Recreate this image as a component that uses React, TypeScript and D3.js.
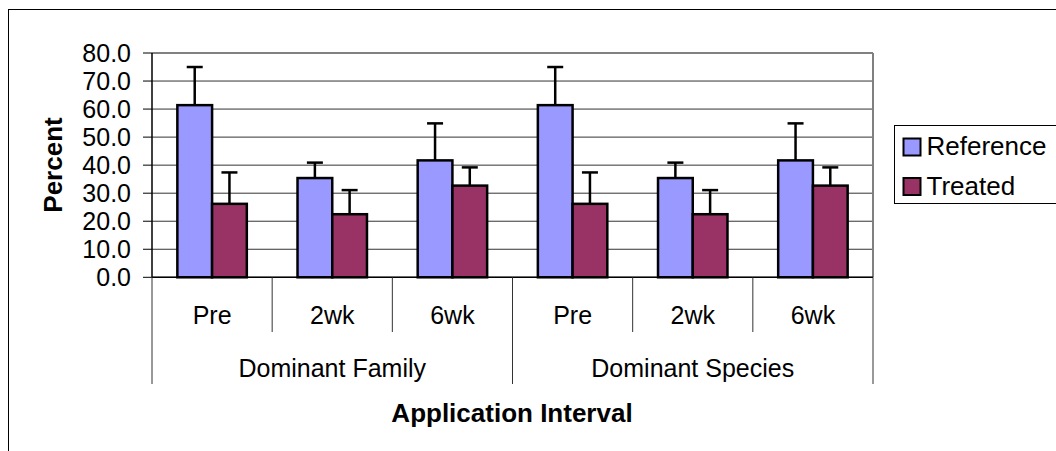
import React from "react";
import * as d3 from "d3";

const groups = ["Dominant Family", "Dominant Species"];
const intervals = ["Pre", "2wk", "6wk"];
const seriesNames = ["Reference", "Treated"];
const seriesColors = ["#9999FF", "#993366"];
const referenceValues = [61.4, 35.4, 41.7, 61.4, 35.4, 41.7];
const treatedValues = [26.2, 22.5, 32.7, 26.2, 22.5, 32.7];
const referenceErrors = [13.6, 5.5, 13.2, 13.6, 5.5, 13.2];
const treatedErrors = [11.2, 8.6, 6.5, 11.2, 8.6, 6.5];
const yTicks = [0, 10, 20, 30, 40, 50, 60, 70, 80];

const FONT = "'Liberation Sans', Arial, Helvetica, sans-serif";

export default function App() {
  const W = 1056, H = 451;
  const left = 152, right = 873, top = 53, bottom = 277.3;
  const categories = groups.flatMap((g) => intervals.map((iv) => `${g}|${iv}`));
  const x = d3.scaleBand<string>().domain(categories).range([left, right]).padding(0);
  const inner = d3
    .scaleBand<string>()
    .domain(seriesNames)
    .range([0, x.bandwidth()])
    .paddingInner(0)
    .paddingOuter(0.73);
  const y = d3.scaleLinear().domain([0, 80]).range([bottom, top]);
  const values = [referenceValues, treatedValues];
  const errors = [referenceErrors, treatedErrors];
  const groupX = d3.scaleBand<string>().domain(groups).range([left, right]).padding(0);

  const boundaries = categories.map((c) => x(c)!).concat([right]);
  const groupBoundaries = groups.map((g) => groupX(g)!).concat([right]);

  return (
    <svg
      width={W}
      height={H}
      style={{ position: "absolute", left: 0, top: 0, background: "#fff" }}
      fontFamily={FONT}
    >
      <rect x={0} y={0} width={W} height={H} fill="#fff" />
      <rect x={8.5} y={9.5} width={W + 20} height={H + 20} fill="none" stroke="#000" strokeWidth={1} />

      {/* gridlines */}
      {yTicks.map((t) => (
        <line key={"g" + t} x1={left} x2={right} y1={y(t)} y2={y(t)} stroke="#333" strokeWidth={1} />
      ))}
      {/* plot border top/right */}
      <line x1={left} x2={right} y1={top} y2={top} stroke="#808080" strokeWidth={2} />
      <line x1={right} x2={right} y1={top} y2={bottom} stroke="#808080" strokeWidth={2} />

      {/* bars */}
      {seriesNames.map((s, si) =>
        categories.map((c, ci) => {
          const bx = x(c)! + inner(s)!;
          const v = values[si][ci];
          return (
            <rect
              key={s + c}
              x={bx}
              y={y(v)}
              width={inner.bandwidth()}
              height={y(0) - y(v)}
              fill={seriesColors[si]}
              stroke="#000"
              strokeWidth={2.5}
            />
          );
        })
      )}
      {/* error bars */}
      {seriesNames.map((s, si) =>
        categories.map((c, ci) => {
          const cx = x(c)! + inner(s)! + inner.bandwidth() / 2;
          const v = values[si][ci];
          const e = errors[si][ci];
          return (
            <g key={"e" + s + c} stroke="#000" strokeWidth={2.5}>
              <line x1={cx} x2={cx} y1={y(v)} y2={y(v + e)} />
              <line x1={cx - 8} x2={cx + 8} y1={y(v + e)} y2={y(v + e)} />
            </g>
          );
        })
      )}

      {/* y axis */}
      <line x1={left} x2={left} y1={top} y2={bottom} stroke="#000" strokeWidth={1.5} />
      {yTicks.map((t) => (
        <g key={"t" + t}>
          <line x1={left - 9} x2={left} y1={y(t)} y2={y(t)} stroke="#000" strokeWidth={1} />
          <text x={131} y={y(t)} dy="0.36em" textAnchor="end" fontSize={25} fill="#000">
            {t.toFixed(1)}
          </text>
        </g>
      ))}

      {/* x axis */}
      <line x1={left} x2={right} y1={bottom} y2={bottom} stroke="#000" strokeWidth={1.5} />
      {boundaries.map((bx, i) => (
        <line key={"b" + i} x1={bx} x2={bx} y1={bottom} y2={332} stroke="#333" strokeWidth={1} />
      ))}
      {groupBoundaries.map((bx, i) => (
        <line key={"gb" + i} x1={bx} x2={bx} y1={332} y2={384} stroke="#333" strokeWidth={1} />
      ))}
      {categories.map((c) => (
        <text
          key={"l" + c}
          x={x(c)! + x.bandwidth() / 2}
          y={324}
          textAnchor="middle"
          fontSize={25}
          fill="#000"
        >
          {c.split("|")[1]}
        </text>
      ))}
      {groups.map((g) => (
        <text
          key={"gl" + g}
          x={groupX(g)! + groupX.bandwidth() / 2}
          y={377}
          textAnchor="middle"
          fontSize={25}
          fill="#000"
        >
          {g}
        </text>
      ))}

      {/* axis titles */}
      <text
        transform={`translate(62,165) rotate(-90)`}
        textAnchor="middle"
        fontSize={26}
        fontWeight="bold"
        fill="#000"
      >
        Percent
      </text>
      <text x={512} y={422} textAnchor="middle" fontSize={26} fontWeight="bold" fill="#000">
        Application Interval
      </text>

      {/* legend */}
      <rect x={894.5} y={125.5} width={200} height={78} fill="#fff" stroke="#000" strokeWidth={1} />
      {seriesNames.map((s, i) => (
        <g key={"lg" + s} transform={`translate(0, ${i * 39.5})`}>
          <rect x={903.5} y={138.5} width={17} height={17} fill={seriesColors[i]} stroke="#000" strokeWidth={2} />
          <text x={926.5} y={155} fontSize={26} fill="#000">
            {s}
          </text>
        </g>
      ))}
    </svg>
  );
}
